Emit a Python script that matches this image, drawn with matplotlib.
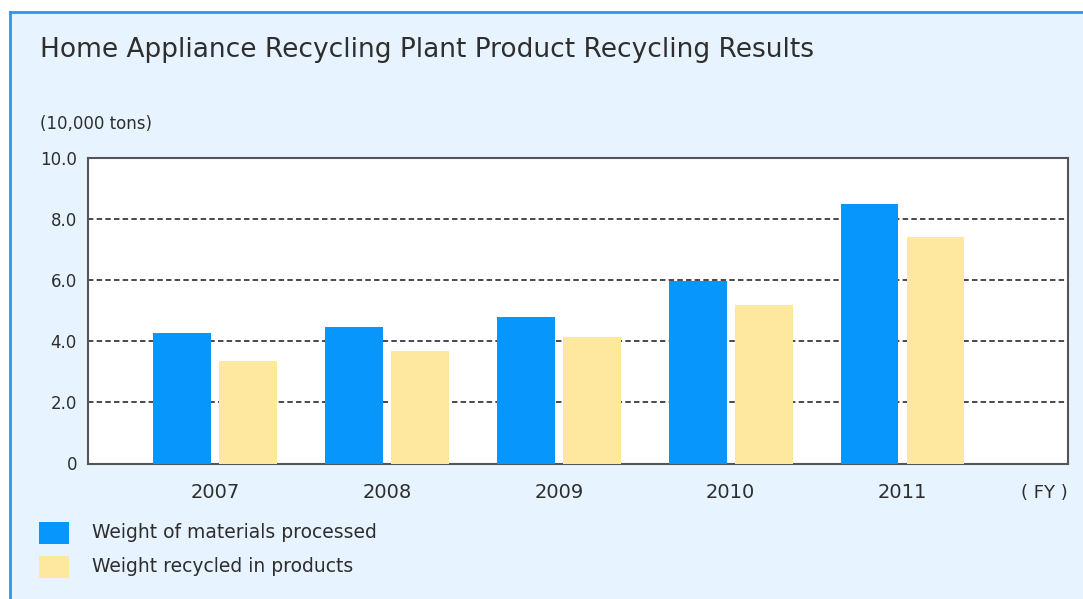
import matplotlib.pyplot as plt
import numpy as np
from matplotlib.patches import Rectangle
from matplotlib.lines import Line2D

plt.rcParams['font.family'] = ['DejaVu Sans']

years = ['2007', '2008', '2009', '2010', '2011']
processed = [4.28, 4.47, 4.81, 5.97, 8.50]
recycled = [3.36, 3.68, 4.13, 5.20, 7.42]
labels = ['Weight of materials processed', 'Weight recycled in products']
yticks = [0, 2, 4, 6, 8, 10]
ytick_labels = ['0', '2.0', '4.0', '6.0', '8.0', '10.0']

blue = '#0796fc'
yellow = '#fee89d'
bg = '#e7f3fe'
text_c = '#2e2e2e'

W, H = 1083, 599
fig = plt.figure(figsize=(W / 100, H / 100), dpi=100)
fig.patch.set_facecolor('white')

# light blue panel with blue border on top and left
fig.patches.append(Rectangle((10 / W, 0), 1, 1 - 12 / H, transform=fig.transFigure,
                             facecolor=bg, edgecolor='none', zorder=-5))
fig.lines.append(Line2D([10 / W, 1], [1 - 12 / H, 1 - 12 / H], transform=fig.transFigure,
                        color='#2a97f0', lw=2, zorder=-4))
fig.lines.append(Line2D([10 / W, 10 / W], [0, 1 - 12 / H], transform=fig.transFigure,
                        color='#2a97f0', lw=2, zorder=-4))

# axes: x 88..1068 px, y 158..463 px
ax = fig.add_axes([88 / W, 1 - 463.5 / H, (1068 - 88) / W, (463.5 - 158) / H])
ax.set_zorder(2)
ax.set_facecolor('white')

x = np.arange(len(years))
bw = 0.337
off = 0.192
ax.bar(x - off, processed, bw, color=blue, zorder=3)
ax.bar(x + off, recycled, bw, color=yellow, zorder=3)

ax.set_xlim(-0.739, len(years) - 1 + 0.963)
ax.set_ylim(0, 10)
ax.set_yticks(yticks)
ax.set_yticklabels(ytick_labels)
ax.set_xticks(x)
ax.set_xticklabels(years)
ax.tick_params(axis='both', length=0, labelcolor=text_c)
ax.tick_params(axis='y', pad=8, labelsize=12)
ax.tick_params(axis='x', pad=14, labelsize=14)

for v in yticks[1:-1]:
    ax.axhline(v, color='#3a3a3a', lw=1.3, ls=(0, (3, 1.8)), zorder=1)

for s in ax.spines.values():
    s.set_color('#555555')
    s.set_linewidth(1.5)

fig.text(40 / W, 1 - 50 / H, 'Home Appliance Recycling Plant Product Recycling Results',
         fontsize=19, color=text_c, va='center', ha='left')
fig.text(40 / W, 1 - 124 / H, '(10,000 tons)', fontsize=12, color=text_c,
         va='center', ha='left')
fig.text(1068 / W, 1 - 493 / H, '( FY )', fontsize=13, color=text_c,
         va='center', ha='right')

# legend
for i, (lab, col) in enumerate(zip(labels, [blue, yellow])):
    y0 = 522 + i * 34
    fig.patches.append(Rectangle((39 / W, 1 - (y0 + 22) / H), 30 / W, 22 / H,
                                 transform=fig.transFigure, facecolor=col,
                                 edgecolor='none'))
    fig.text(92 / W, 1 - (y0 + 11) / H, lab, fontsize=13.5, color=text_c,
             va='center', ha='left')

fig.savefig('out.png', dpi=100, facecolor=fig.get_facecolor())
